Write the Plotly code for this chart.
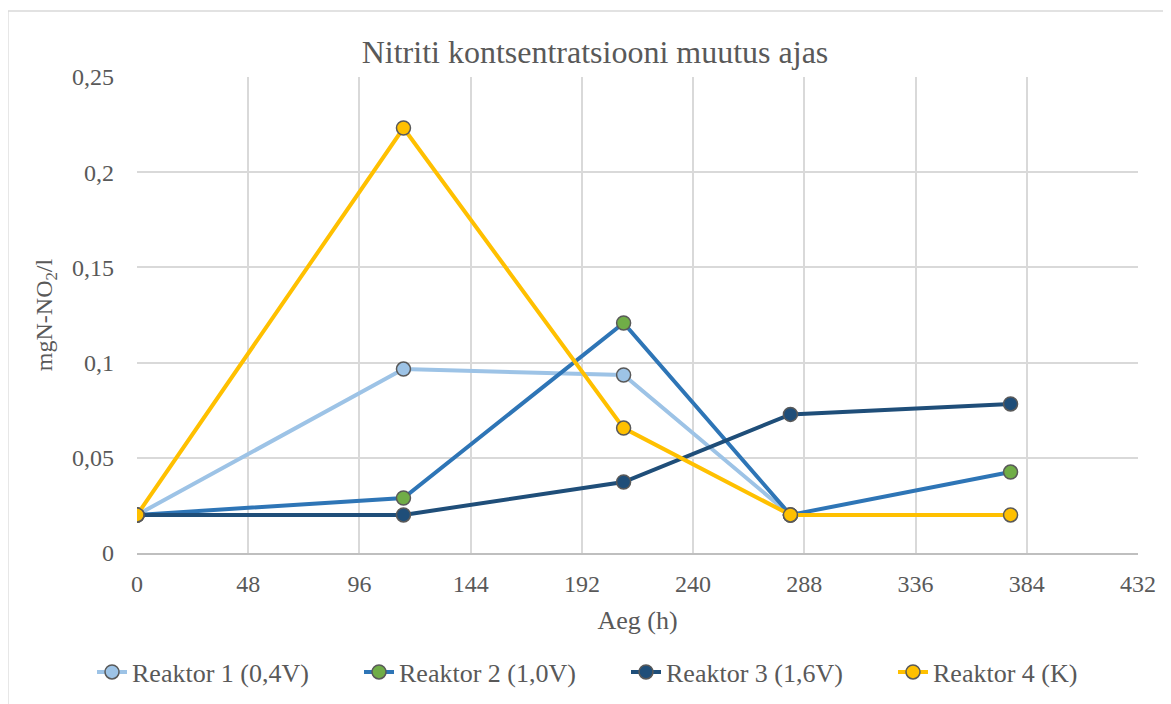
import plotly.graph_objects as go

# sampling times (h)
hours = [0, 115, 210, 282, 377]

reaktor1 = [0.02, 0.0966, 0.0935, 0.02, None]
reaktor2 = [0.02, 0.0289, 0.1208, 0.02, 0.0425]
reaktor3 = [0.02, 0.02, 0.0373, 0.0728, 0.0783]
reaktor4 = [0.02, 0.2232, 0.0656, 0.02, 0.02]

names = ["Reaktor 1 (0,4V)", "Reaktor 2 (1,0V)", "Reaktor 3 (1,6V)", "Reaktor 4 (K)"]
x_ticks = [0, 48, 96, 144, 192, 240, 288, 336, 384, 432]
y_ticks = [0, 0.05, 0.1, 0.15, 0.2, 0.25]
y_labels = ["0", "0,05", "0,1", "0,15", "0,2", "0,25"]

line_colors = ["#9DC3E6", "#2E75B6", "#1F4E79", "#FFC000"]
marker_colors = ["#9DC3E6", "#70AD47", "#1F4E79", "#FFC000"]

FONT = "'Liberation Serif', 'Times New Roman', serif"
GREY = "#595959"

fig = go.Figure()

for name, ys, lc, mc in zip(names, [reaktor1, reaktor2, reaktor3, reaktor4], line_colors, marker_colors):
    xs = [h for h, v in zip(hours, ys) if v is not None]
    vs = [v for v in ys if v is not None]
    fig.add_trace(
        go.Scatter(
            x=xs,
            y=vs,
            mode="lines+markers",
            name=name,
            line=dict(color=lc, width=4),
            marker=dict(color=mc, size=14, line=dict(color=GREY, width=1.5)),
        )
    )

# outer chart border
fig.add_shape(
    type="rect",
    xref="paper",
    yref="paper",
    x0=-0.129,
    x1=1.06,
    y0=-0.36,
    y1=1.1387,
    line=dict(color="#D9D9D9", width=1.5),
    layer="below",
)

# page body has an 8px margin, so everything is shifted by -8
fig.update_layout(
    width=1171,
    height=704,
    paper_bgcolor="white",
    plot_bgcolor="white",
    margin=dict(l=129, r=41, t=69, b=159),
    font=dict(family=FONT, size=24, color=GREY),
    title=dict(
        text="Nitriti kontsentratsiooni muutus ajas",
        x=587 / 1171,
        xref="container",
        xanchor="center",
        y=1 - 44 / 704,
        yref="container",
        yanchor="middle",
        font=dict(family=FONT, size=32, color=GREY),
    ),
    showlegend=True,
    legend=dict(
        orientation="h",
        x=(92 - 137) / 1001,
        xanchor="left",
        y=-0.25,
        yanchor="middle",
        entrywidth=222,
        entrywidthmode="pixels",
        font=dict(family=FONT, size=26, color=GREY),
    ),
)

fig.update_xaxes(
    range=[0, 432],
    tickvals=x_ticks,
    ticktext=[str(t) for t in x_ticks],
    tickfont=dict(family=FONT, size=24, color=GREY),
    showgrid=True,
    gridcolor="#D9D9D9",
    gridwidth=1.5,
    zeroline=False,
    showline=True,
    linecolor="#BFBFBF",
    linewidth=1.5,
    ticks="",
    ticklabelstandoff=8,
    title=dict(text="Aeg (h)", standoff=15, font=dict(family=FONT, size=26, color=GREY)),
)

fig.update_yaxes(
    range=[0, 0.25],
    tickvals=y_ticks,
    ticktext=y_labels,
    tickfont=dict(family=FONT, size=24, color=GREY),
    showgrid=True,
    gridcolor="#D9D9D9",
    gridwidth=1.5,
    zeroline=False,
    showline=False,
    ticks="",
    ticklabelstandoff=22,
    title=dict(text="mgN-NO<sub>2</sub>/l", standoff=12, font=dict(family=FONT, size=24, color=GREY)),
)

fig.write_html("out.html")
